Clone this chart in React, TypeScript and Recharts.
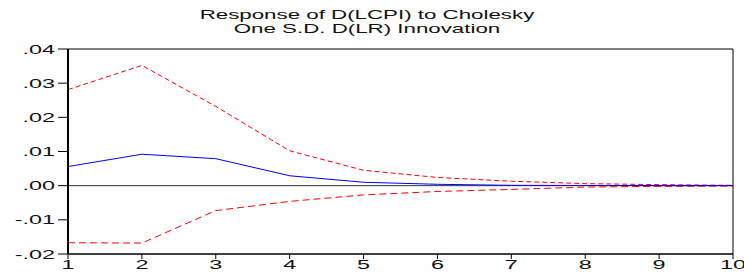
import React from "react";
import { LineChart, Line, XAxis, YAxis, ReferenceLine, ReferenceArea } from "recharts";

// impulse response periods and values
const periods = [1, 2, 3, 4, 5, 6, 7, 8, 9, 10];
const response = [0.0056, 0.0092, 0.0079, 0.0029, 0.001, 0.0004, 0.0001, 0.00005, 0, 0];
const upperBand = [0.0281, 0.0352, 0.0232, 0.0102, 0.0045, 0.0024, 0.0013, 0.0006, 0.0003, 0.0001];
const lowerBand = [-0.0167, -0.0168, -0.0073, -0.0046, -0.0027, -0.0017, -0.0011, -0.0004, -0.0002, -0.0001];
const yTicks = [-0.02, -0.01, 0, 0.01, 0.02, 0.03, 0.04];
const titleLines = ["Response of D(LCPI) to Cholesky", "One S.D. D(LR) Innovation"];

const FONT = "'Liberation Sans', Arial, sans-serif";
const STRETCH = 1.8;

const fmt = (v: number): string => v.toFixed(2).replace(/^(-?)0\./, "$1.");

const YTick = (props: any) => {
    const { x, y, payload } = props;
    return (
        <text transform={`translate(${x},${y}) scale(${STRETCH},1)`} textAnchor="end" dy="0.35em"
            fontSize={13} fontFamily={FONT} fill="#111">
            {fmt(payload.value)}
        </text>
    );
};

const XTick = (props: any) => {
    const { x, y, payload } = props;
    return (
        <text transform={`translate(${x},${y}) scale(${STRETCH},1)`} textAnchor="middle" dy="0.71em"
            fontSize={13} fontFamily={FONT} fill="#111">
            {payload.value}
        </text>
    );
};

const App: React.FC = () => {
    const data = periods.map((p, i) => ({
        period: p,
        response: response[i],
        upper: upperBand[i],
        lower: lowerBand[i],
    }));

    return (
        <div style={{ position: "absolute", left: 0, top: 0, width: 744, height: 273, background: "#fff", overflow: "hidden" }}>
            <div style={{
                position: "absolute", left: 167, top: 9, width: 400, textAlign: "center",
                fontFamily: FONT, fontSize: 12.4, lineHeight: "13.5px", color: "#111",
                transform: `scaleX(${STRETCH})`, transformOrigin: "50% 0", whiteSpace: "nowrap",
            }}>
                {titleLines.map((t) => <div key={t}>{t}</div>)}
            </div>
            <LineChart width={744} height={273} data={data} margin={{ top: 49, right: 11, bottom: 0, left: 0 }}>
                <XAxis dataKey="period" type="number" domain={[1, 10]} ticks={periods} height={19}
                    tickSize={5} tickMargin={1} tick={<XTick />} axisLine={{ stroke: "#000" }} tickLine={{ stroke: "#000" }} />
                <YAxis type="number" domain={[-0.02, 0.04]} ticks={yTicks} width={68} tickSize={10} tickMargin={3}
                    tick={<YTick />} axisLine={{ stroke: "#000", strokeWidth: 2 }} tickLine={{ stroke: "#000" }} />
                <ReferenceArea x1={1} x2={10} y1={-0.02} y2={0.04} fill="none" stroke="#000" strokeWidth={1} />
                <ReferenceLine y={0} stroke="#333" strokeWidth={1} />
                <Line type="linear" dataKey="upper" stroke="#ff0000" strokeWidth={1} strokeDasharray="5 3" dot={false} isAnimationActive={false} />
                <Line type="linear" dataKey="lower" stroke="#ff0000" strokeWidth={1} strokeDasharray="7 4" dot={false} isAnimationActive={false} />
                <Line type="linear" dataKey="response" stroke="#0000ff" strokeWidth={1} dot={false} isAnimationActive={false} />
            </LineChart>
        </div>
    );
};

export default App;
